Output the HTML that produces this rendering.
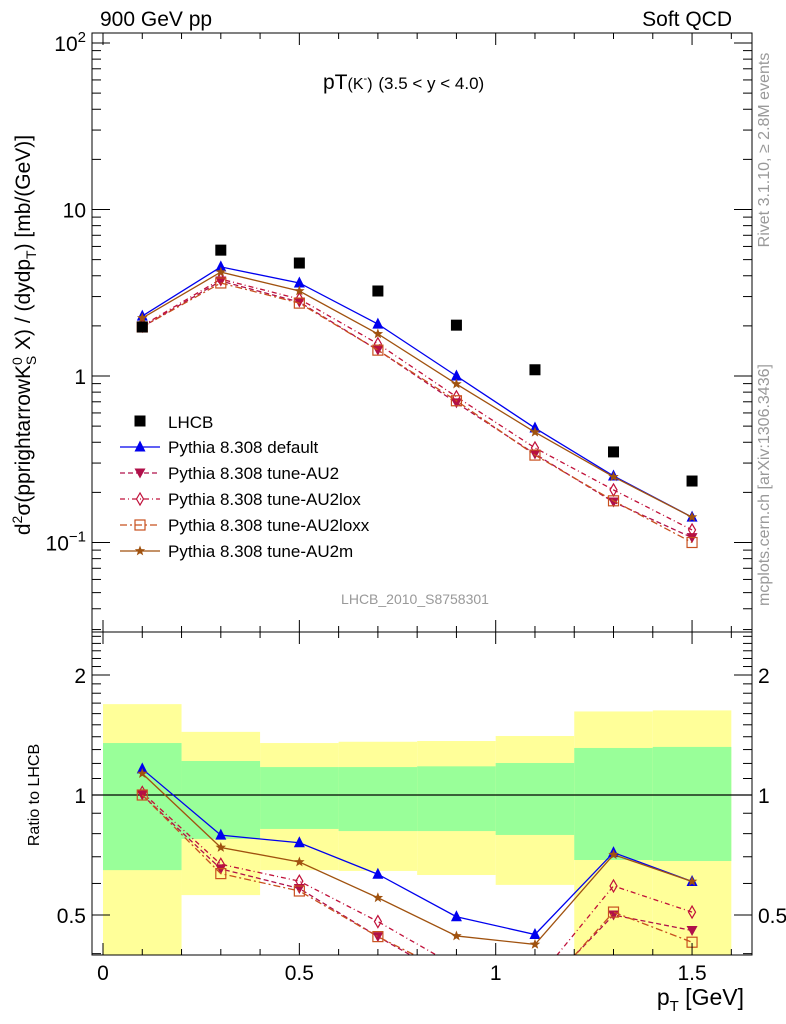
<!DOCTYPE html>
<html><head><meta charset="utf-8"><style>body{margin:0;background:#fff}svg{display:block;font-family:"Liberation Sans",sans-serif}</style></head>
<body>
<svg id="c" width="786" height="1024" viewBox="0 0 786 1024"></svg>
<script>
const xs=[0.1,0.3,0.5,0.7,0.9,1.1,1.3,1.5];
const lhcb=[1.97,5.7,4.77,3.24,2.02,1.09,0.35,0.234];
const sDefault=[2.29,4.52,3.62,2.05,1.0,0.487,0.251,0.142];
const sAU2=[1.97,3.72,2.78,1.43,0.69,0.34,0.175,0.107];
const sAU2lox=[2.0,3.82,2.9,1.56,0.75,0.37,0.207,0.119];
const sAU2loxx=[1.97,3.62,2.74,1.43,0.71,0.335,0.178,0.1];
const sAU2m=[2.23,4.21,3.24,1.79,0.895,0.46,0.248,0.142];
const binEdges=[0,0.2,0.4,0.6,0.8,1.0,1.2,1.4,1.6];
const yelHi=[1.69,1.44,1.35,1.36,1.366,1.406,1.62,1.63];
const yelLo=[0.3,0.561,0.648,0.645,0.63,0.595,0.3,0.3];
const grnHi=[1.35,1.217,1.175,1.175,1.18,1.203,1.312,1.32];
const grnLo=[0.648,0.776,0.822,0.812,0.812,0.794,0.687,0.683];
const xTicks=[0,0.5,1,1.5];
const xTickLabels=["0","0.5","1","1.5"];

const NS="http://www.w3.org/2000/svg",svg=document.getElementById('c');
const L=92,R=752,T=33,MB=632,RB=955;
const X=v=>103+392.7*v;
const YM=v=>376-166.5*Math.log10(v);
const YR=v=>795-398.7*Math.log10(v);
function el(t,a,p){const e=document.createElementNS(NS,t);for(const k in a)e.setAttribute(k,a[k]);(p||svg).appendChild(e);return e;}
const defs=el('defs',{});
const c1=el('clipPath',{id:'cm'},defs);el('rect',{x:L,y:T,width:R-L,height:MB-T},c1);
const c2=el('clipPath',{id:'cr'},defs);el('rect',{x:L,y:MB,width:R-L,height:RB-MB},c2);
const gM=el('g',{'clip-path':'url(#cm)'});


const gR=el('g',{'clip-path':'url(#cr)'});



for(let i=0;i<8;i++){
  const y=el('rect',{x:X(binEdges[i]),width:X(binEdges[i+1])-X(binEdges[i]),y:YR(yelHi[i]),height:YR(yelLo[i])-YR(yelHi[i]),fill:'#ffff99'},gR);
  
  
}
for(let i=0;i<8;i++){
  const g=el('rect',{x:X(binEdges[i]),width:X(binEdges[i+1])-X(binEdges[i]),y:YR(grnHi[i]),height:YR(grnLo[i])-YR(grnHi[i]),fill:'#99ff99'},gR);
  
  
}
el('line',{x1:L,x2:R,y1:YR(1),y2:YR(1),stroke:'#000','stroke-width':1.2},gR);

function marker(type,x,y,col,p){
  const s=5.5;
  if(type==='sq')return el('rect',{x:x-5.5,y:y-5.5,width:11,height:11,fill:'#000'},p);
  if(type==='tri')return el('polygon',{points:`${x},${y-s-1} ${x-s},${y+s-1} ${x+s},${y+s-1}`,fill:col},p);
  if(type==='itri')return el('polygon',{points:`${x},${y+s} ${x-s},${y-s+1} ${x+s},${y-s+1}`,fill:col},p);
  if(type==='dia')return el('polygon',{points:`${x},${y-6} ${x-3.5},${y} ${x},${y+6} ${x+3.5},${y}`,fill:'none',stroke:col,'stroke-width':1.2},p);
  if(type==='osq')return el('rect',{x:x-5,y:y-5,width:10,height:10,fill:'none',stroke:col,'stroke-width':1.2},p);
  if(type==='star'){let pts=[];for(let k=0;k<10;k++){const r=k%2?2.3:5.5,a=-Math.PI/2+k*Math.PI/5;pts.push((x+r*Math.cos(a)).toFixed(1)+','+(y+r*Math.sin(a)).toFixed(1));}return el('polygon',{points:pts.join(' '),fill:col},p);}
}
const series=[
 {name:'Pythia 8.308 default',d:sDefault,col:'#0000ee',dash:'',m:'tri',id:'default'},
 {name:'Pythia 8.308 tune-AU2',d:sAU2,col:'#b0104a',dash:'5,3',m:'itri',id:'au2'},
 {name:'Pythia 8.308 tune-AU2lox',d:sAU2lox,col:'#c0103a',dash:'5,3,1,3',m:'dia',id:'au2lox'},
 {name:'Pythia 8.308 tune-AU2loxx',d:sAU2loxx,col:'#c8501e',dash:'7,3,2,3',m:'osq',id:'au2loxx'},
 {name:'Pythia 8.308 tune-AU2m',d:sAU2m,col:'#a0520f',dash:'',m:'star',id:'au2m'}
];
series.forEach(s=>{
  for(const [g,fy,vals] of [[gM,YM,s.d],[gR,YR,s.d.map((v,i)=>v/lhcb[i])]]){
    const pl=el('polyline',{points:vals.map((v,i)=>X(xs[i])+','+fy(v)).join(' '),fill:'none',stroke:s.col,'stroke-width':1.3,'stroke-dasharray':s.dash},g);
    
    
    vals.forEach((v,i)=>{const m=marker(s.m,X(xs[i]),fy(v),s.col,g);
      
      });
  }
});
lhcb.forEach((v,i)=>{const m=marker('sq',X(xs[i]),YM(v),'#000',gM);
  
  });

el('rect',{x:L,y:T,width:R-L,height:MB-T,fill:'none',stroke:'#000','stroke-width':1});
el('rect',{x:L,y:MB,width:R-L,height:RB-MB,fill:'none',stroke:'#000','stroke-width':1});
for(let k=0;k<=16;k++){
  const v=k/10,x=X(v),maj=(k%5===0),len=maj?12:6;
  if(x>R)continue;
  for(const [a,b] of [[T,1],[MB,-1],[MB,1],[RB,-1]])el('line',{x1:x,x2:x,y1:a,y2:a+b*len,stroke:'#000'});
}
xTicks.forEach((v,i)=>{const t=el('text',{x:X(v),y:980,'font-size':21,'text-anchor':'middle'});t.textContent=xTickLabels[i];
 });
for(let e=-2;e<=2;e++)for(let m=1;m<10;m++){
  const v=m*Math.pow(10,e),y=YM(v);if(y<T||y>MB)continue;
  const len=m===1?18:9;
  el('line',{x1:L,x2:L+len,y1:y,y2:y,stroke:'#000'});el('line',{x1:R,x2:R-len,y1:y,y2:y,stroke:'#000'});
}
function lab(txt,x,y,size,anchor,name){const t=el('text',{x,y,'font-size':size,'text-anchor':anchor||'start'});t.innerHTML=txt;return t;}
lab('10<tspan dy="-9" font-size="15">2</tspan>',86,YM(100)+8,21,'end','y-tick-label');
lab('10',86,YM(10)+8,21,'end','y-tick-label');
lab('1',86,YM(1)+8,21,'end','y-tick-label');
lab('10<tspan dy="-9" font-size="15">−1</tspan>',86,YM(0.1)+8,21,'end','y-tick-label');
for(let k=4;k<=25;k++){const v=k/10,y=YR(v);if(y<MB||y>RB)continue;const maj=(k===5||k===10||k===20),len=maj?18:9;
  el('line',{x1:L,x2:L+len,y1:y,y2:y,stroke:'#000'});el('line',{x1:R,x2:R-len,y1:y,y2:y,stroke:'#000'});}
[[2,'2'],[1,'1'],[0.5,'0.5']].forEach(([v,t])=>{lab(t,86,YR(v)+8,21,'end','ratio-tick-label');lab(t,758,YR(v)+8,21,'start','ratio-tick-label-right');});
lab('900 GeV pp',100,26,21,'start','header-left');
lab('Soft QCD',732,26,21,'end','header-right');
lab('pT<tspan font-size="16">(K<tspan dy="-7" font-size="11">-</tspan><tspan dy="7">)</tspan></tspan> <tspan font-size="17">(3.5 &lt; y &lt; 4.0)</tspan>',323,89,21,'start','plot-title');
lab('LHCB_2010_S8758301',415,604,14,'middle','analysis-id').setAttribute('fill','#999');
lab('p<tspan dy="6" font-size="15">T</tspan><tspan dy="-6"> [GeV]</tspan>',744,1005,23,'end','x-axis-title');
const yt=lab('d<tspan dy="-8" font-size="14">2</tspan><tspan dy="8">σ(pprightarrowK</tspan><tspan dy="-8" font-size="14">0</tspan><tspan dx="-8" dy="14" font-size="14">S</tspan><tspan dy="-6"> X) / (dydp</tspan><tspan dy="6" font-size="14">T</tspan><tspan dy="-6">) [mb/(GeV)]</tspan>',0,0,21,'middle','y-axis-title');
yt.setAttribute('transform','translate(30,335) rotate(-90)');
const rt=lab('Ratio to LHCB',0,0,16,'middle','ratio-axis-title');rt.setAttribute('transform','translate(39,795) rotate(-90)');
const r1=lab('Rivet 3.1.10, ≥ 2.8M events',0,0,16,'middle','rivet-info');r1.setAttribute('transform','translate(769,150) rotate(-90)');r1.setAttribute('fill','#999');
const r2=lab('mcplots.cern.ch [arXiv:1306.3436]',0,0,16,'middle','mcplots-info');r2.setAttribute('transform','translate(769,485) rotate(-90)');r2.setAttribute('fill','#999');
const lg=el('g',{});


const ly=[421,447,473,499,525,551];
marker('sq',140,ly[0],'#000',lg);lab('LHCB',168,ly[0]+7,17,'start','legend-entry');
series.forEach((s,i)=>{const y=ly[i+1];
  el('line',{x1:120,x2:160,y1:y,y2:y,stroke:s.col,'stroke-width':1.3,'stroke-dasharray':s.dash},lg);
  marker(s.m,140,y,s.col,lg);lab(s.name,168,y+6,17,'start','legend-entry');});
</script>
</body></html>
